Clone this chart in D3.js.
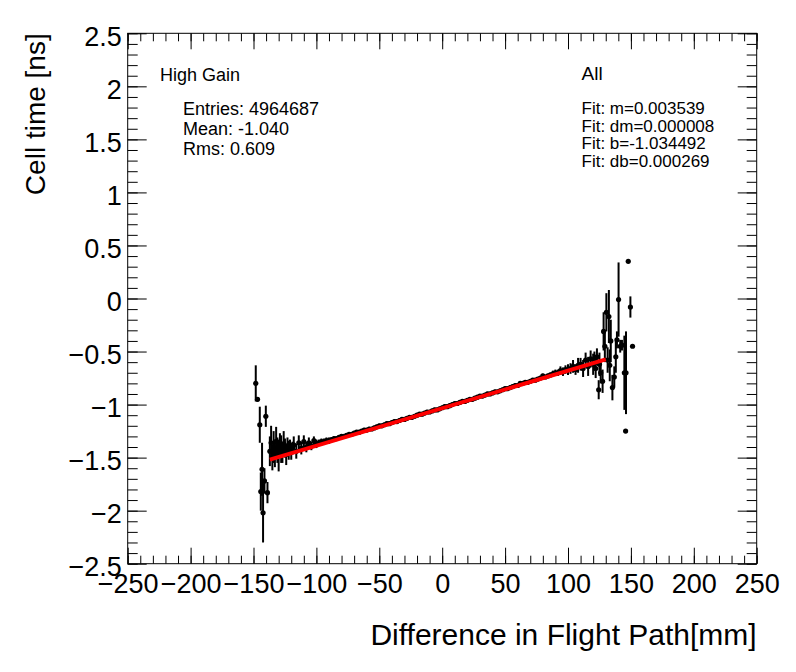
<!DOCTYPE html>
<html>
<head>
<meta charset="utf-8">
<script src="https://cdn.jsdelivr.net/npm/d3@7"></script>
<style>
  body { margin: 0; background: #fff; }
  text { font-family: "Liberation Sans", Arial, Helvetica, sans-serif; }
</style>
</head>
<body>
<script>
'use strict';

// left tail of the profile (sparse, noisy bins)
const leftX = [-148.2, -146.8, -145.0, -144.2, -143.2, -142.4, -141.3, -140.2, -138.9,
    -137, -136, -135, -134, -133, -132, -131, -130, -129, -128, -127, -126, -125, -124, -123, -122, -121, -120, -119]
const leftY = [-0.80, -0.95, -1.19, -1.82, -1.61, -2.02, -1.72, -1.11, -1.83,
    -1.44, -1.36, -1.50, -1.40, -1.46, -1.35, -1.43, -1.48, -1.38, -1.42, -1.45, -1.37, -1.41, -1.47, -1.39, -1.43, -1.40, -1.44, -1.41]
const leftE = [0.17, 0.02, 0.17, 0.18, 0.25, 0.28, 0.12, 0.10, 0.10,
    0.14, 0.16, 0.12, 0.15, 0.13, 0.14, 0.12, 0.15, 0.11, 0.13, 0.10, 0.12, 0.09, 0.10, 0.08, 0.09, 0.07, 0.08, 0.06]

// central bins, every 2 mm from -118 to 120
const midX = d3.range(-118, 121, 2)
const midY = [
    -1.38, -1.44, -1.36, -1.41, -1.35, -1.40, -1.36, -1.39, -1.34, -1.37,
    -1.36, -1.35, -1.35, -1.34, -1.34, -1.33, -1.32, -1.32, -1.31, -1.30,
    -1.30, -1.29, -1.28, -1.28, -1.27, -1.26, -1.26, -1.25, -1.24, -1.24,
    -1.23, -1.23, -1.22, -1.21, -1.20, -1.20, -1.19, -1.18, -1.18, -1.17,
    -1.16, -1.16, -1.15, -1.14, -1.14, -1.13, -1.12, -1.12, -1.11, -1.10,
    -1.09, -1.09, -1.08, -1.07, -1.07, -1.06, -1.05, -1.05, -1.04, -1.03,
    -1.02, -1.02, -1.01, -1.00, -0.99, -0.99, -0.98, -0.97, -0.97, -0.96,
    -0.95, -0.95, -0.94, -0.93, -0.92, -0.92, -0.91, -0.90, -0.90, -0.89,
    -0.88, -0.88, -0.87, -0.86, -0.85, -0.85, -0.84, -0.83, -0.82, -0.82,
    -0.80, -0.80, -0.79, -0.79, -0.78, -0.77, -0.77, -0.76, -0.75, -0.73,
    -0.74, -0.73, -0.72, -0.71, -0.70, -0.70, -0.68, -0.69, -0.67, -0.67,
    -0.66, -0.64, -0.67, -0.63, -0.62, -0.66, -0.58, -0.64, -0.57, -0.62]
const midE = [
    0.08, 0.07, 0.07, 0.06, 0.06, 0.05, 0.05, 0.04, 0.04, 0.04,
    0.03, 0.03, 0.03, 0.03, 0.03, 0.02, 0.02, 0.02, 0.02, 0.02,
    0.02, 0.02, 0.02, 0.02, 0.02, 0.02, 0.02, 0.02, 0.02, 0.02,
    0.02, 0.02, 0.02, 0.02, 0.02, 0.02, 0.02, 0.02, 0.02, 0.02,
    0.02, 0.02, 0.02, 0.02, 0.02, 0.02, 0.02, 0.02, 0.02, 0.02,
    0.02, 0.02, 0.02, 0.02, 0.02, 0.02, 0.02, 0.02, 0.02, 0.02,
    0.02, 0.02, 0.02, 0.02, 0.02, 0.02, 0.02, 0.02, 0.02, 0.02,
    0.02, 0.02, 0.02, 0.02, 0.02, 0.02, 0.02, 0.02, 0.02, 0.02,
    0.02, 0.02, 0.02, 0.02, 0.02, 0.02, 0.02, 0.02, 0.02, 0.02,
    0.02, 0.02, 0.02, 0.02, 0.02, 0.02, 0.02, 0.02, 0.02, 0.02,
    0.02, 0.02, 0.02, 0.03, 0.03, 0.03, 0.04, 0.04, 0.04, 0.05,
    0.05, 0.06, 0.05, 0.07, 0.06, 0.08, 0.07, 0.09, 0.08, 0.10]

// right tail
const rightX = [121, 122, 123, 124.4, 125, 126, 127.5, 128.3, 129.3, 130.5, 131.5, 132.5, 133.2, 134,
    135.3, 136.8, 138.0, 138.9, 140.2, 141.5, 142.9, 144.8, 145.8, 146.1, 147.9, 149.6, 151.3]
const rightY = [-0.58, -0.66, -0.55, -0.86, -0.62, -0.70, -0.78, -0.31, -0.45, -0.13, -0.58, -0.17, -0.63, -0.40,
    -0.84, -0.74, -0.55, -0.39, -0.01, -0.45, -0.44, -0.70, -1.25, -0.70, 0.35, -0.08, -0.45]
const rightE = [0.08, 0.09, 0.08, 0.09, 0.11, 0.10, 0.11, 0.18, 0.15, 0.18, 0.12, 0.25, 0.15, 0.20,
    0.12, 0.10, 0.15, 0.08, 0.35, 0.06, 0.05, 0.35, 0, 0.39, 0, 0.10, 0]

// fit result
const fitM = 0.003539
const fitB = -1.034492
const fitRange = [-137, 130]

const statsLeft = ["Entries: 4964687", "Mean: -1.040", "Rms: 0.609"]
const statsRight = ["Fit: m=0.003539", "Fit: dm=0.000008", "Fit: b=-1.034492", "Fit: db=0.000269"]

const W = 796, H = 672
const x0 = 127.7, x1 = 756.7, y0 = 33.3, y1 = 563.7

const svg = d3.select('body').append('svg')
    .attr('width', W).attr('height', H)

const x = d3.scaleLinear().domain([-250, 250]).range([x0, x1])
const y = d3.scaleLinear().domain([-2.5, 2.5]).range([y1, y0])

let points = []
function addGroup(xs, ys, es) {
    xs.forEach((v, i) => points.push({x: v, y: ys[i], e: es[i]}))
}
addGroup(leftX, leftY, leftE)
addGroup(midX, midY, midE)
addGroup(rightX, rightY, rightE)

// ticks, ROOT style (inside the frame, on all four sides)
const majX = d3.range(-250, 251, 50), minX = d3.range(-250, 251, 10)
const majY = d3.range(-2.5, 2.51, 0.5), minY = d3.range(-2.5, 2.51, 0.1)

function drawAxis(axis, transform, size, vals, labels) {
    const g = svg.append('g').attr('transform', transform)
        .call(axis.tickValues(vals).tickSize(size)
            .tickFormat(labels ? d3.format('') : ''))
    g.select('.domain').remove()
    g.selectAll('line').attr('stroke', '#000')
    return g
}

drawAxis(d3.axisBottom(x), `translate(0,${y1})`, -8, minX, false)
drawAxis(d3.axisTop(x), `translate(0,${y0})`, -8, minX, false)
drawAxis(d3.axisTop(x), `translate(0,${y0})`, -16, majX, false)
const bx = drawAxis(d3.axisBottom(x).tickPadding(10), `translate(0,${y1})`, -16, majX, true)
bx.selectAll('text').attr('font-size', 27).attr('fill', '#000')
    .style('font-family', '"Liberation Sans", Arial, sans-serif')

drawAxis(d3.axisLeft(y), `translate(${x0},0)`, -10, minY, false)
drawAxis(d3.axisRight(y), `translate(${x1},0)`, -10, minY, false)
drawAxis(d3.axisRight(y), `translate(${x1},0)`, -19, majY, false)
const ly = drawAxis(d3.axisLeft(y).tickPadding(6), `translate(${x0},0)`, -19, majY, true)
ly.selectAll('text').attr('font-size', 27).attr('fill', '#000').attr('dy', '0.45em')
    .style('font-family', '"Liberation Sans", Arial, sans-serif')
    .text(d => d3.format('')(Math.round(d * 10) / 10))

svg.append('rect')
    .attr('x', x0).attr('y', y0)
    .attr('width', x1 - x0).attr('height', y1 - y0)
    .attr('fill', 'none').attr('stroke', '#000').attr('stroke-width', 1)

// error bars and markers
const pg = svg.append('g')
pg.selectAll('line.err')
    .data(points.filter(d => d.e > 0))
    .enter()
    .append('line')
    .attr('class', 'err')
    .attr('x1', d => x(d.x)).attr('x2', d => x(d.x))
    .attr('y1', d => y(d.y - d.e)).attr('y2', d => y(d.y + d.e))
    .attr('stroke', '#000').attr('stroke-width', 2)

pg.selectAll('circle')
    .data(points)
    .enter()
    .append('circle')
    .attr('cx', d => x(d.x)).attr('cy', d => y(d.y))
    .attr('r', 2.6).attr('fill', '#000')

// fit line
svg.append('line')
    .attr('x1', x(fitRange[0])).attr('y1', y(fitB + fitM * fitRange[0]))
    .attr('x2', x(fitRange[1])).attr('y2', y(fitB + fitM * fitRange[1]))
    .attr('stroke', '#ff0000').attr('stroke-width', 4)

// labels
svg.append('text').attr('x', 160).attr('y', 80.5).attr('font-size', 18).text('High Gain')
svg.selectAll('.statL').data(statsLeft).enter().append('text')
    .attr('x', 183).attr('y', (d, i) => 115 + i * 20)
    .attr('font-size', 18).text(d => d)

svg.append('text').attr('x', 581.5).attr('y', 79.5).attr('font-size', 19).text('All')
svg.selectAll('.statR').data(statsRight).enter().append('text')
    .attr('x', 581.5).attr('y', (d, i) => 114 + i * 17.6)
    .attr('font-size', 17).text(d => d)

svg.append('text')
    .attr('x', x1).attr('y', 645)
    .attr('text-anchor', 'end').attr('font-size', 30)
    .text('Difference in Flight Path[mm]')

svg.append('text')
    .attr('transform', `translate(45,${y0}) rotate(-90)`)
    .attr('text-anchor', 'end').attr('font-size', 28)
    .text('Cell time [ns]')
</script>
</body>
</html>
